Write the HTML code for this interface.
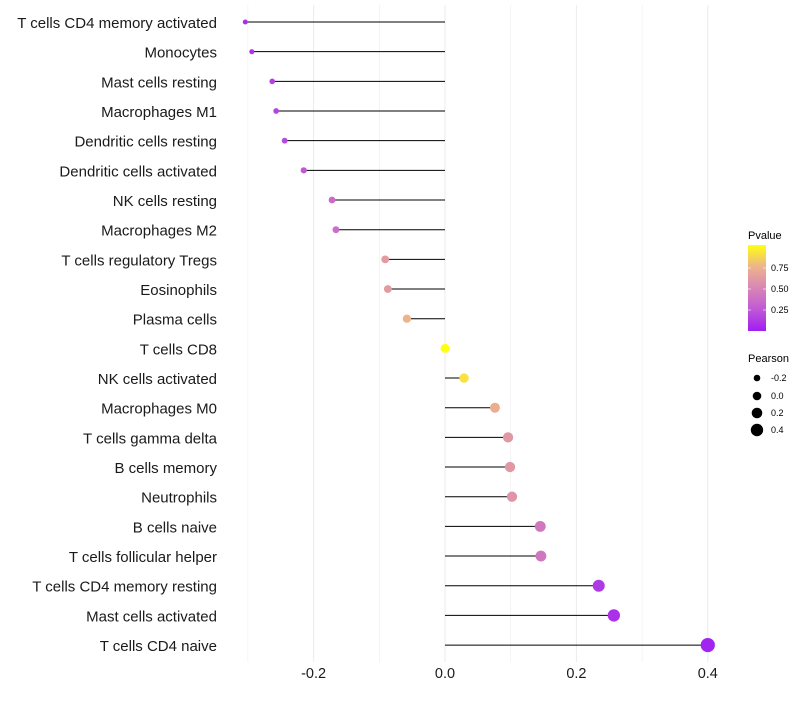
<!DOCTYPE html>
<html><head><meta charset="utf-8"><style>
body{margin:0;background:#fff;font-family:"Liberation Sans",sans-serif}
</style></head><body>
<svg id="chart" width="800" height="700" font-family="Liberation Sans, sans-serif">
<defs><linearGradient id="pg" x1="0" y1="1" x2="0" y2="0">
<stop offset="0" stop-color="#a01ef2"/><stop offset="0.25" stop-color="#c058d6"/>
<stop offset="0.5" stop-color="#d886b6"/><stop offset="0.75" stop-color="#edb48a"/>
<stop offset="1" stop-color="#ffff10"/></linearGradient></defs>
<g id="grid"></g>
<g id="marks"></g>
<g id="ylab"></g>
<g id="xlab"></g>
<g>
<text x="748" y="239" font-size="11" fill="#000">Pvalue</text>
<rect x="748" y="245" width="18" height="86" fill="url(#pg)"/>
<line x1="748" x2="751" y1="268" y2="268" stroke="#fff" opacity="0.6"/><line x1="763" x2="766" y1="268" y2="268" stroke="#fff" opacity="0.6"/>
<line x1="748" x2="751" y1="289" y2="289" stroke="#fff" opacity="0.6"/><line x1="763" x2="766" y1="289" y2="289" stroke="#fff" opacity="0.6"/>
<line x1="748" x2="751" y1="310" y2="310" stroke="#fff" opacity="0.6"/><line x1="763" x2="766" y1="310" y2="310" stroke="#fff" opacity="0.6"/>
<text x="771" y="271" font-size="9">0.75</text><text x="771" y="292" font-size="9">0.50</text><text x="771" y="313" font-size="9">0.25</text>
</g>
<g>
<text x="748" y="362" font-size="11">Pearson</text>
<circle cx="757" cy="378" r="3.3"/><text x="771" y="381" font-size="9">-0.2</text>
<circle cx="757" cy="396" r="4.3"/><text x="771" y="399" font-size="9">0.0</text>
<circle cx="757" cy="413" r="5.3"/><text x="771" y="416" font-size="9">0.2</text>
<circle cx="757" cy="430" r="6.2"/><text x="771" y="433" font-size="9">0.4</text>
</g>
</svg>
<script>
const categories=["T cells CD4 memory activated","Monocytes","Mast cells resting","Macrophages M1","Dendritic cells resting","Dendritic cells activated","NK cells resting","Macrophages M2","T cells regulatory  Tregs ","Eosinophils","Plasma cells","T cells CD8","NK cells activated","Macrophages M0","T cells gamma delta","B cells memory","Neutrophils","B cells naive","T cells follicular helper","T cells CD4 memory resting","Mast cells activated","T cells CD4 naive"];
const pearson=[-0.304,-0.294,-0.263,-0.257,-0.244,-0.215,-0.172,-0.166,-0.091,-0.087,-0.058,0.0,0.029,0.076,0.096,0.099,0.102,0.145,0.146,0.234,0.257,0.400];
const pvalues=[0.08,0.1,0.15,0.16,0.18,0.25,0.35,0.37,0.62,0.62,0.75,1.0,0.9,0.72,0.6,0.6,0.58,0.42,0.42,0.12,0.08,0.02];
const xTicks=[-0.2,0.0,0.2,0.4];
const NS="http://www.w3.org/2000/svg";
const x=v=>445+v*657;
const y=i=>22+i*29.67;
const stops=[[0,[0xa0,0x1e,0xf2]],[0.25,[0xc0,0x58,0xd6]],[0.5,[0xd8,0x86,0xb6]],[0.75,[0xed,0xb4,0x8a]],[1,[0xff,0xff,0x10]]];
function col(p){for(let k=0;k<stops.length-1;k++){const[a,ca]=stops[k],[b,cb]=stops[k+1];if(p<=b){const t=(p-a)/(b-a);return`rgb(${ca.map((c,j)=>Math.round(c+(cb[j]-c)*t)).join(',')})`;}}return"rgb(255,255,16)";}
const rad=v=>4.5+v*6.5;
function mk(t,a,p){const e=document.createElementNS(NS,t);for(const k in a)e.setAttribute(k,a[k]);p.appendChild(e);return e;}
const grid=document.getElementById('grid');
for(let v=-0.3;v<=0.41;v+=0.1){const l=mk('line',{x1:x(v),x2:x(v),y1:5,y2:662,stroke:'#ebebeb','stroke-width':Math.abs(Math.round(v*10))%2==0?1:0.5},grid);

}
const marks=document.getElementById('marks'),ylab=document.getElementById('ylab'),xlab=document.getElementById('xlab');
categories.forEach((c,i)=>{
const seg=mk('line',{x1:x(0),x2:x(pearson[i]),y1:y(i),y2:y(i),stroke:'#000','stroke-width':1},marks);


const d=mk('circle',{cx:x(pearson[i]),cy:y(i),r:rad(pearson[i]),fill:col(pvalues[i])},marks);


const t=mk('text',{x:217,y:y(i)+6,'text-anchor':'end','font-size':15,fill:'#1a1a1a','xml:space':'preserve'},ylab);t.textContent=c;


});
xTicks.forEach(v=>{const t=mk('text',{x:x(v),y:678,'text-anchor':'middle','font-size':14.5,fill:'#1a1a1a'},xlab);t.textContent=v.toFixed(1);

});
</script>
</body></html>
